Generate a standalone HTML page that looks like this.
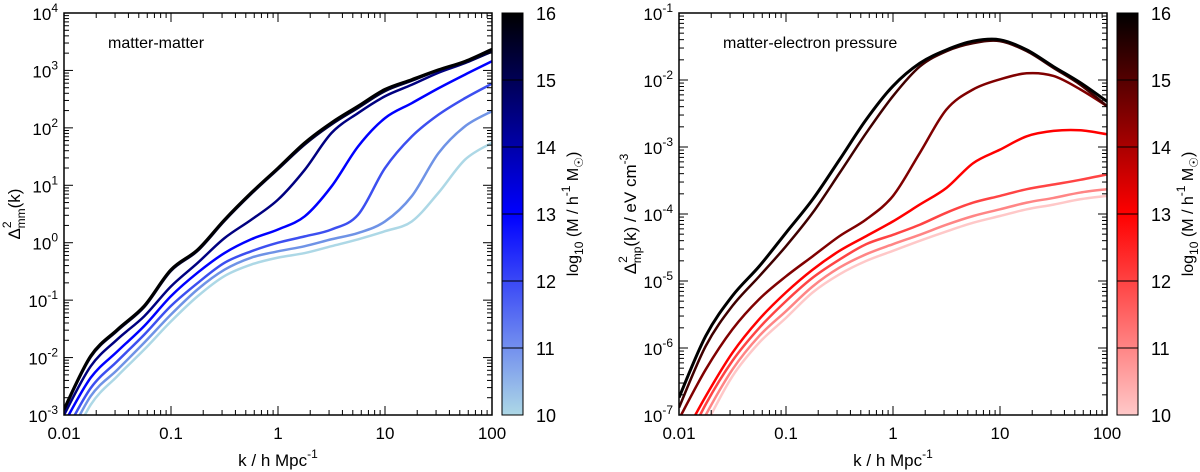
<!DOCTYPE html>
<html><head><meta charset="utf-8">
<style>
html,body{margin:0;padding:0;background:#fff;}
svg{display:block;font-family:"Liberation Sans",sans-serif;}
</style></head>
<body>
<svg id="fig" width="1200" height="472" viewBox="0 0 1200 472" xmlns="http://www.w3.org/2000/svg">
<defs>
<linearGradient id="gBlue" x1="0" y1="1" x2="0" y2="0">
<stop offset="0" stop-color="#add8e6"/><stop offset="0.5" stop-color="#0000ff"/><stop offset="1" stop-color="#000000"/>
</linearGradient>
<linearGradient id="gRed" x1="0" y1="1" x2="0" y2="0">
<stop offset="0" stop-color="#ffc8c8"/><stop offset="0.5" stop-color="#ff0000"/><stop offset="1" stop-color="#000000"/>
</linearGradient>
<clipPath id="clipL"><rect x="64" y="13" width="428" height="402"/></clipPath>
<clipPath id="clipR"><rect x="679" y="13" width="428" height="402"/></clipPath>
</defs>
<g id="left"></g>
<g id="right"></g>
</svg>
<script>
// log10 k sample points (quarter decades)
const logK = [-2,-1.75,-1.5,-1.25,-1,-0.75,-0.5,-0.25,0,0.25,0.5,0.75,1,1.25,1.5,1.75,2];
const massLabels = [16,15,14,13,12,11,10];
// log10 Delta^2_mm per mass
const mm16 = [-2.90,-1.97,-1.51,-1.10,-0.47,-0.12,0.40,0.87,1.30,1.74,2.09,2.38,2.67,2.84,3.01,3.16,3.37];
const mm15 = [-2.92,-1.99,-1.53,-1.12,-0.49,-0.14,0.38,0.85,1.28,1.71,2.06,2.35,2.64,2.82,3.00,3.14,3.33];
const mm14 = [-3.00,-2.15,-1.68,-1.28,-0.76,-0.35,0.08,0.40,0.75,1.27,1.91,2.26,2.55,2.75,2.96,3.13,3.33];
const mm13 = [-3.15,-2.35,-1.89,-1.45,-0.93,-0.52,-0.18,0.06,0.23,0.46,0.98,1.68,2.17,2.43,2.69,2.93,3.16];
const mm12 = [-3.35,-2.53,-2.06,-1.60,-1.10,-0.70,-0.35,-0.15,0.00,0.11,0.23,0.49,1.30,1.85,2.23,2.52,2.77];
const mm11 = [-3.55,-2.67,-2.21,-1.74,-1.25,-0.81,-0.47,-0.26,-0.15,-0.06,0.06,0.17,0.37,0.81,1.56,2.03,2.29];
const mm10 = [-3.75,-2.82,-2.32,-1.86,-1.37,-0.93,-0.58,-0.38,-0.26,-0.18,-0.06,0.06,0.20,0.37,0.87,1.45,1.74];
// log10 Delta^2_mp per mass
const mp16 = [-6.74,-5.82,-5.22,-4.78,-4.28,-3.78,-3.19,-2.59,-2.09,-1.75,-1.55,-1.42,-1.40,-1.55,-1.80,-2.04,-2.32];
const mp15 = [-6.89,-5.97,-5.37,-4.93,-4.48,-3.98,-3.39,-2.79,-2.24,-1.80,-1.57,-1.45,-1.42,-1.57,-1.82,-2.07,-2.39];
const mp14 = [-7.06,-6.32,-5.72,-5.27,-4.93,-4.63,-4.33,-4.08,-3.73,-3.09,-2.44,-2.14,-1.99,-1.90,-1.94,-2.14,-2.39];
const mp13 = [-7.45,-6.72,-6.07,-5.57,-5.17,-4.83,-4.55,-4.33,-4.11,-3.86,-3.61,-3.24,-3.04,-2.84,-2.76,-2.75,-2.81];
const mp12 = [-7.65,-6.84,-6.19,-5.70,-5.30,-4.95,-4.68,-4.45,-4.31,-4.16,-3.98,-3.83,-3.73,-3.63,-3.56,-3.49,-3.41];
const mp11 = [-7.80,-7.00,-6.32,-5.82,-5.45,-5.08,-4.80,-4.60,-4.45,-4.31,-4.16,-4.03,-3.93,-3.83,-3.76,-3.68,-3.63];
const mp10 = [-7.95,-7.15,-6.42,-5.92,-5.55,-5.17,-4.90,-4.70,-4.55,-4.40,-4.26,-4.13,-4.03,-3.93,-3.86,-3.78,-3.73];
const xTicks = ["0.01","0.1","1","10","100"];
const yTicksL = [-3,-2,-1,0,1,2,3,4];
const yTicksR = [-7,-6,-5,-4,-3,-2,-1];
const cbTicks = [10,11,12,13,14,15,16];
const blueCols = ["#000000","#00003a","#000080","#0000ff","#3c4ff0","#6f93e6","#add8e6"];
const redCols = ["#000000","#400000","#800000","#ff0000","#ff4444","#ff8585","#ffc8c8"];

const NS="http://www.w3.org/2000/svg";
function mk(parent,tag,attrs,text){const e=document.createElementNS(NS,tag);for(const a in attrs)e.setAttribute(a,attrs[a]);if(text!==undefined)e.textContent=text;parent.appendChild(e);return e;}

function panel(g,opt){
  const {x0,x1,y0,y1,ymin,ymax,series,cols,clip,cbx,grad,title,ylab}=opt;
  const XL=l=>x0+(l+2)/4*(x1-x0);
  const X=k=>XL(Math.log10(k));
  const Y=l=>y1-(l-ymin)/(ymax-ymin)*(y1-y0);
  const cg=mk(g,'g',{'clip-path':'url(#'+clip+')'});
  for(let s=series.length-1;s>=0;s--){
    const pts=logK.map((l,i)=>[XL(l),Y(series[s][i])]);
    let d='M'+pts[0][0]+','+pts[0][1];
    for(let i=0;i<pts.length-1;i++){
      const p0=pts[Math.max(0,i-1)],p1=pts[i],p2=pts[i+1],p3=pts[Math.min(pts.length-1,i+2)];
      const c1x=p1[0]+(p2[0]-p0[0])/6,c1y=p1[1]+(p2[1]-p0[1])/6;
      const c2x=p2[0]-(p3[0]-p1[0])/6,c2y=p2[1]-(p3[1]-p1[1])/6;
      d+=' C'+c1x+','+c1y+' '+c2x+','+c2y+' '+p2[0]+','+p2[1];
    }
    const p=mk(cg,'path',{d:d,fill:'none',stroke:cols[s],'stroke-width':s===0?3:2.5,'stroke-linejoin':'round'});
    
    
  }
  mk(g,'rect',{x:x0,y:y0,width:x1-x0,height:y1-y0,fill:'none',stroke:'#000','stroke-width':1.5});
  for(let dec=-2;dec<=2;dec++){
    for(let m=1;m<=9;m++){
      if(dec===2&&m>1)break;
      const k=m*Math.pow(10,dec),x=X(k),L=m===1?9:5;
      mk(g,'line',{x1:x,x2:x,y1:y1,y2:y1-L,stroke:'#000','stroke-width':1});
      mk(g,'line',{x1:x,x2:x,y1:y0,y2:y0+L,stroke:'#000','stroke-width':1});
    }
  }
  xTicks.forEach((t,i)=>{const tx=mk(g,'text',{x:X(Math.pow(10,i-2)),y:y1+24,'font-size':17,'text-anchor':'middle'},t);
    });
  for(let d=ymin;d<=ymax;d++){
    for(let m=1;m<=9;m++){
      if(d===ymax&&m>1)break;
      const y=Y(d+Math.log10(m)),L=m===1?9:5;
      mk(g,'line',{x1:x0,x2:x0+L,y1:y,y2:y,stroke:'#000','stroke-width':1});
      mk(g,'line',{x1:x1,x2:x1-L,y1:y,y2:y,stroke:'#000','stroke-width':1});
    }
  }
  opt.yTicks.forEach(v=>{
    const t=mk(g,'text',{x:x0-6,y:Y(v)+7,'font-size':17,'text-anchor':'end'});
    
    mk(t,'tspan',{},'10');mk(t,'tspan',{dy:-8,'font-size':12},String(v));
  });
  const xt=mk(g,'text',{x:(x0+x1)/2,y:466,'font-size':17,'text-anchor':'middle'});
  
  mk(xt,'tspan',{},'k / h Mpc');mk(xt,'tspan',{dy:-8,'font-size':12},'-1');
  const yt=mk(g,'text',{transform:'translate('+opt.ylx+','+((y0+y1)/2)+') rotate(-90)','font-size':17,'text-anchor':'middle'});
  
  mk(yt,'tspan',{},'Δ');mk(yt,'tspan',{dy:-9,'font-size':12},'2');mk(yt,'tspan',{dx:-7,dy:14,'font-size':12},ylab);
  mk(yt,'tspan',{dy:-5},'(k)'+opt.yunit);
  if(opt.yexp){mk(yt,'tspan',{dy:-8,'font-size':12},opt.yexp);}
  const pt=mk(g,'text',{x:x0+44,y:y0+35,'font-size':16},title);
  
  const cb=mk(g,'rect',{x:cbx,y:y0,width:21,height:y1-y0,fill:'url(#'+grad+')',stroke:'#000','stroke-width':1});
  
  cbTicks.forEach((v,i)=>{
    const y=y1-i/6*(y1-y0);
    if(i>0&&i<6)mk(g,'line',{x1:cbx,x2:cbx+21,y1:y,y2:y,stroke:'#000','stroke-width':1});
    const t=mk(g,'text',{x:cbx+34,y:y+7,'font-size':18,'text-anchor':'start'},String(v));
    
  });
  const ct=mk(g,'text',{transform:'translate('+(cbx+76)+','+((y0+y1)/2)+') rotate(-90)','font-size':16,'text-anchor':'middle'});
  
  mk(ct,'tspan',{},'log');mk(ct,'tspan',{dy:5,'font-size':12},'10');mk(ct,'tspan',{dy:-5},' (M / h');
  mk(ct,'tspan',{dy:-8,'font-size':12},'-1');mk(ct,'tspan',{dy:8},' M');mk(ct,'tspan',{dy:5,'font-size':12},'☉');mk(ct,'tspan',{dy:-5},')');
}
panel(document.getElementById('left'),{x0:64,x1:492,y0:13,y1:415,ymin:-3,ymax:4,yTicks:yTicksL,
  series:[mm16,mm15,mm14,mm13,mm12,mm11,mm10],cols:blueCols,clip:'clipL',cbx:502,grad:'gBlue',
  title:'matter-matter',ylab:'mm',yunit:'',ylx:20});
panel(document.getElementById('right'),{x0:679,x1:1107,y0:13,y1:415,ymin:-7,ymax:-1,yTicks:yTicksR,
  series:[mp16,mp15,mp14,mp13,mp12,mp11,mp10],cols:redCols,clip:'clipR',cbx:1117,grad:'gRed',
  title:'matter-electron pressure',ylab:'mp',yunit:' / eV cm',yexp:'-3',ylx:636});
</script>
</body></html>
